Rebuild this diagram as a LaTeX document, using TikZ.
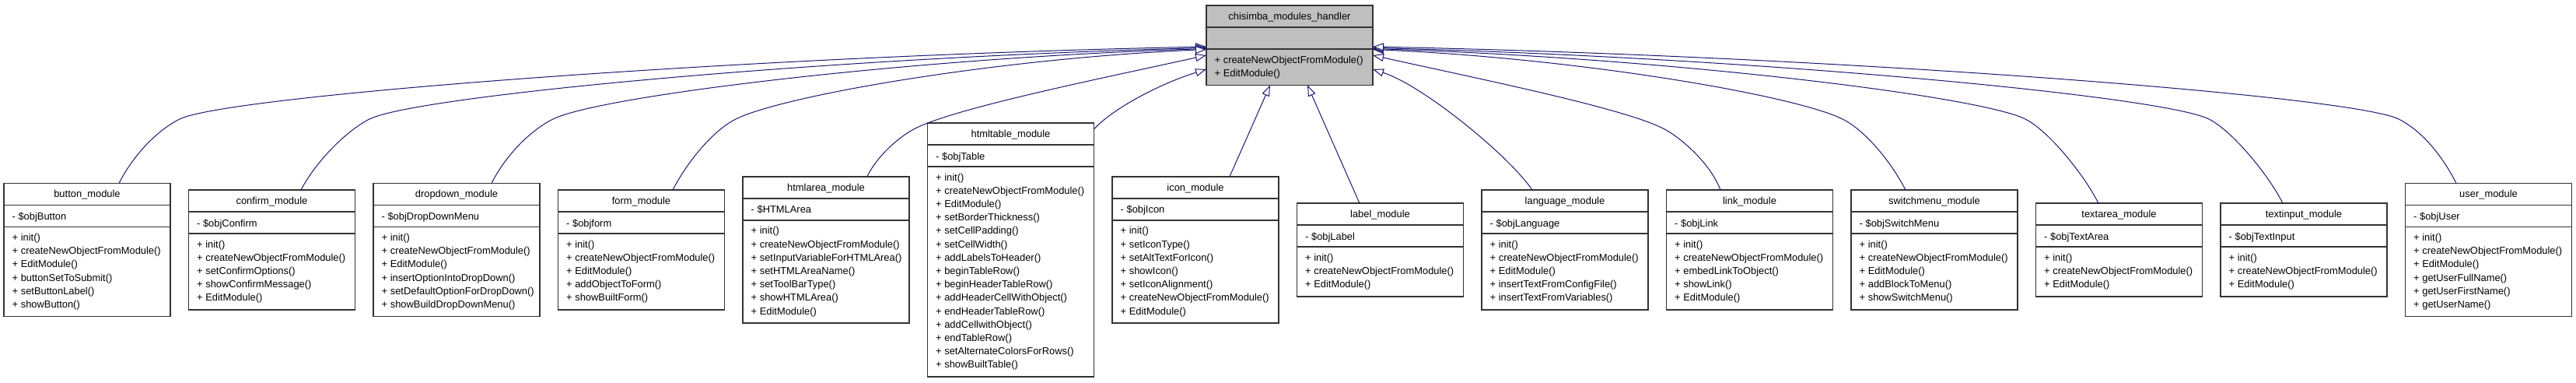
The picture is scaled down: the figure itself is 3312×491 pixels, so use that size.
\documentclass[tikz,border=0pt]{standalone}
\usepackage{fontspec}
\setmainfont{Liberation Sans}
\usetikzlibrary{arrows.meta}
\definecolor{edgecol}{HTML}{191970}
\definecolor{basefill}{HTML}{BFBFBF}
\definecolor{boxline}{HTML}{333333}
\tikzset{
 classbox/.style={rectangle, draw=boxline, fill=white, line width=1.5pt, minimum width=214pt, inner sep=0pt, outer sep=0pt, anchor=north west},
 sepline/.style={draw=boxline, line width=1.5pt},
 classtext/.style={inner sep=0pt, font=\fontsize{12.9pt}{15pt}\selectfont},
 inh/.style={draw=edgecol, line width=1pt, -{Triangle[length=14pt,width=10pt,fill=white]}}
}
\newcommand{\umlclass}[8][]{%
  \pgfmathsetmacro{\chh}{68+17.2*#8}%
  \pgfmathsetmacro{\cty}{#4-\chh/2}%
  \node[classbox,#1,minimum height=\chh pt] (#2) at (#3,\cty) {};
  \draw[sepline] ([yshift=-28pt]#2.north west) -- ([yshift=-28pt]#2.north east);
  \draw[sepline] ([yshift=-56pt]#2.north west) -- ([yshift=-56pt]#2.north east);
  \node[classtext,anchor=base] (#2-t) at ([yshift=-18.5pt]#2.north) {#5};
  \node[classtext,anchor=base west] (#2-a) at ([xshift=10.5pt,yshift=-47pt]#2.north west) {#6};
  \foreach \mm [count=\ii] in {#7} {
    \node[classtext,anchor=base west] (#2-m\ii) at ([xshift=10.5pt,yshift={-(74+17.2*(\ii-1))*1pt}]#2.north west) {\mm};
  }%
}
\begin{document}
\begin{tikzpicture}[x=1pt,y=-1pt]
\useasboundingbox (0,0) rectangle (3312,491);
\umlclass[fill=basefill]{handler}{1551}{58.2}{chisimba\_modules\_handler}{}{+ createNewObjectFromModule(), + EditModule()}{2}
\umlclass{button}{5}{321}{button\_module}{- \$objButton}{+ init(), + createNewObjectFromModule(), + EditModule(), + buttonSetToSubmit(), + setButtonLabel(), + showButton()}{6}
\umlclass{confirm}{242.5}{321}{confirm\_module}{- \$objConfirm}{+ init(), + createNewObjectFromModule(), + setConfirmOptions(), + showConfirmMessage(), + EditModule()}{5}
\umlclass{dropdown}{480}{321}{dropdown\_module}{- \$objDropDownMenu}{+ init(), + createNewObjectFromModule(), + EditModule(), + insertOptionIntoDropDown(), + setDefaultOptionForDropDown(), + showBuildDropDownMenu()}{6}
\umlclass{form}{717.5}{321}{form\_module}{- \$objform}{+ init(), + createNewObjectFromModule(), + EditModule(), + addObjectToForm(), + showBuiltForm()}{5}
\umlclass{htmlarea}{955}{321}{htmlarea\_module}{- \$HTMLArea}{+ init(), + createNewObjectFromModule(), + setInputVariableForHTMLArea(), + setHTMLAreaName(), + setToolBarType(), + showHTMLArea(), + EditModule()}{7}
\umlclass{htmltable}{1192.5}{321}{htmltable\_module}{- \$objTable}{+ init(), + createNewObjectFromModule(), + EditModule(), + setBorderThickness(), + setCellPadding(), + setCellWidth(), + addLabelsToHeader(), + beginTableRow(), + beginHeaderTableRow(), + addHeaderCellWithObject(), + endHeaderTableRow(), + addCellwithObject(), + endTableRow(), + setAlternateColorsForRows(), + showBuiltTable()}{15}
\umlclass{icon}{1430}{321}{icon\_module}{- \$objIcon}{+ init(), + setIconType(), + setAltTextForIcon(), + showIcon(), + setIconAlignment(), + createNewObjectFromModule(), + EditModule()}{7}
\umlclass{label}{1667.5}{321}{label\_module}{- \$objLabel}{+ init(), + createNewObjectFromModule(), + EditModule()}{3}
\umlclass{language}{1905}{321}{language\_module}{- \$objLanguage}{+ init(), + createNewObjectFromModule(), + EditModule(), + insertTextFromConfigFile(), + insertTextFromVariables()}{5}
\umlclass{link}{2142.5}{321}{link\_module}{- \$objLink}{+ init(), + createNewObjectFromModule(), + embedLinkToObject(), + showLink(), + EditModule()}{5}
\umlclass{switchmenu}{2380}{321}{switchmenu\_module}{- \$objSwitchMenu}{+ init(), + createNewObjectFromModule(), + EditModule(), + addBlockToMenu(), + showSwitchMenu()}{5}
\umlclass{textarea}{2617.5}{321}{textarea\_module}{- \$objTextArea}{+ init(), + createNewObjectFromModule(), + EditModule()}{3}
\umlclass{textinput}{2855}{321}{textinput\_module}{- \$objTextInput}{+ init(), + createNewObjectFromModule(), + EditModule()}{3}
\umlclass{user}{3092.5}{321}{user\_module}{- \$objUser}{+ init(), + createNewObjectFromModule(), + EditModule(), + getUserFullName(), + getUserFirstName(), + getUserName()}{6}
% connectors (left side)
\draw[inh] ([xshift=148pt]button.north west) .. controls (171,200) and (201,168) .. (231,153) .. controls (291,123) and (957,72) .. ([yshift=-53pt]handler.north west);
\draw[inh] ([xshift=144.5pt]confirm.north west) .. controls (405,209) and (445,168) .. (475,153) .. controls (535,123) and (1067,73.5) .. ([yshift=-54.5pt]handler.north west);
\draw[inh] ([xshift=152pt]dropdown.north west) .. controls (650,200) and (681,168) .. (711,153) .. controls (771,123) and (1173,74.5) .. ([yshift=-55.5pt]handler.north west);
\draw[inh] ([xshift=147.5pt]form.north west) .. controls (883,209) and (916,168) .. (946,153) .. controls (1006,123) and (1279,75.5) .. ([yshift=-56.5pt]handler.north west);
\draw[inh] ([xshift=160pt]htmlarea.north west) .. controls (1125,205) and (1150,180) .. (1173,167) .. controls (1220,140) and (1420,100) .. ([yshift=-64pt]handler.north west);
\draw[inh] ([yshift=-8pt]htmltable.north east) .. controls (1430,140) and (1490,108) .. ([yshift=-82pt]handler.north west);
% bottom
\draw[inh] ([xshift=151pt]icon.north west) -- ([xshift=-25pt]handler.south);
\draw[inh] ([xshift=80.5pt]label.north west) -- ([xshift=23pt]handler.south);
% right side
\draw[inh] ([xshift=65pt]language.north west) .. controls (1940,200) and (1830,110) .. ([yshift=-82pt]handler.north east);
\draw[inh] ([xshift=69.5pt]link.north west) .. controls (2200,212) and (2165,180) .. (2142,167) .. controls (2095,140) and (1895,100) .. ([yshift=-64pt]handler.north east);
\draw[inh] ([xshift=70pt]switchmenu.north west) .. controls (2432,209) and (2399,168) .. (2369,153) .. controls (2309,123) and (2036,75.5) .. ([yshift=-56.5pt]handler.north east);
\draw[inh] ([xshift=80.5pt]textarea.north west) .. controls (2680,225) and (2634,168) .. (2604,153) .. controls (2544,123) and (2142,74.5) .. ([yshift=-55.5pt]handler.north east);
\draw[inh] ([xshift=80pt]textinput.north west) .. controls (2917,225) and (2870,168) .. (2840,153) .. controls (2780,123) and (2248,73.5) .. ([yshift=-54.5pt]handler.north east);
\draw[inh] ([xshift=65.5pt]user.north west) .. controls (3140,200) and (3114,168) .. (3084,153) .. controls (3024,123) and (2358,72) .. ([yshift=-53pt]handler.north east);
\end{tikzpicture}
\end{document}
